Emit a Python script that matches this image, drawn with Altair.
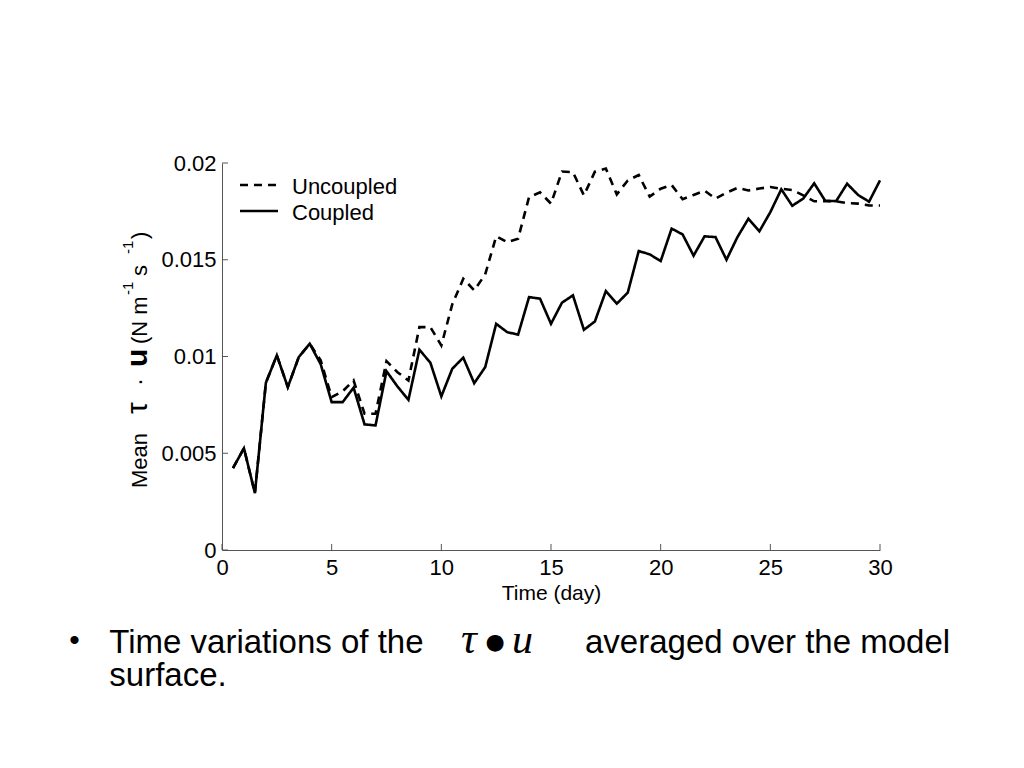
import altair as alt
import pandas as pd

# ---- data ----
days = [0.5, 1.0, 1.5, 2.0, 2.5, 3.0, 3.5, 4.0, 4.5, 5.0,
        5.5, 6.0, 6.5, 7.0, 7.5, 8.0, 8.5, 9.0, 9.5, 10.0,
        10.5, 11.0, 11.5, 12.0, 12.5, 13.0, 13.5, 14.0, 14.5, 15.0,
        15.5, 16.0, 16.5, 17.0, 17.5, 18.0, 18.5, 19.0, 19.5, 20.0,
        20.5, 21.0, 21.5, 22.0, 22.5, 23.0, 23.5, 24.0, 24.5, 25.0,
        25.5, 26.0, 26.5, 27.0, 27.5, 28.0, 28.5, 29.0, 29.5, 30.0]

coupled = [0.00423, 0.00526, 0.00294, 0.00864, 0.01006, 0.00842, 0.00997, 0.01066, 0.00960, 0.00764,
           0.00764, 0.00839, 0.00649, 0.00644, 0.00924, 0.00845, 0.00776, 0.01035, 0.00968, 0.00794,
           0.00937, 0.00994, 0.00862, 0.00945, 0.01169, 0.01126, 0.01113, 0.01307, 0.01299, 0.01169,
           0.01278, 0.01316, 0.01138, 0.01181, 0.01338, 0.01273, 0.01330, 0.01545, 0.01528, 0.01493,
           0.01661, 0.01631, 0.01521, 0.01621, 0.01617, 0.01500, 0.01617, 0.01712, 0.01647, 0.01746,
           0.01864, 0.01779, 0.01816, 0.01895, 0.01805, 0.01803, 0.01893, 0.01835, 0.01800, 0.01910]

uncoupled = [0.00423, 0.00526, 0.00294, 0.00864, 0.01006, 0.00842, 0.00997, 0.01066, 0.00980, 0.00790,
             0.00820, 0.00876, 0.00704, 0.00704, 0.00976, 0.00919, 0.00876, 0.01152, 0.01152, 0.01057,
             0.01270, 0.01402, 0.01342, 0.01424, 0.01621, 0.01591, 0.01609, 0.01824, 0.01848, 0.01790,
             0.01956, 0.01953, 0.01833, 0.01955, 0.01971, 0.01838, 0.01910, 0.01938, 0.01826, 0.01867,
             0.01886, 0.01813, 0.01835, 0.01857, 0.01816, 0.01847, 0.01871, 0.01858, 0.01868, 0.01876,
             0.01867, 0.01860, 0.01833, 0.01802, 0.01802, 0.01802, 0.01793, 0.01790, 0.01781, 0.01780]

series_names = ["Uncoupled", "Coupled"]
x_ticks = [0, 5, 10, 15, 20, 25, 30]
y_ticks = [0, 0.005, 0.01, 0.015, 0.02]

FONT = "Liberation Sans"
SERIF = "Liberation Serif"
AXC = "#555555"
W, H = 658, 387

df = pd.DataFrame({
    "day": days * 2,
    "value": uncoupled + coupled,
    "series": ["Uncoupled"] * len(days) + ["Coupled"] * len(days),
})

xs = alt.Scale(domain=[0, 30], nice=False)
ys = alt.Scale(domain=[0, 0.02], nice=False)

x_axis = alt.Axis(
    values=x_ticks, title="Time (day)", ticks=False, tickSize=0, grid=False,
    labelPadding=7, labelFontSize=22, labelFont=FONT, labelColor="black",
    titleFont=FONT, titleFontSize=21, titleFontWeight="normal", titleColor="black",
    titlePadding=4, domainColor=AXC, domainWidth=1, labelFlush=False)
y_axis = alt.Axis(
    values=y_ticks, format="~g", title="", ticks=False, tickSize=0, grid=False,
    labelPadding=6, labelFontSize=22, labelFont=FONT, labelColor="black",
    domainColor=AXC, domainWidth=1, labelFlush=False)

lines = alt.Chart(df).mark_line(color="black", strokeWidth=2.6).encode(
    x=alt.X("day:Q", scale=xs, axis=x_axis),
    y=alt.Y("value:Q", scale=ys, axis=y_axis),
    strokeDash=alt.StrokeDash("series:N", scale=alt.Scale(domain=series_names, range=[[8, 6], [1, 0]]), legend=None),
)

yt = alt.Chart(pd.DataFrame({"value": y_ticks})).mark_rule(color=AXC, strokeWidth=1).encode(
    y=alt.Y("value:Q", scale=ys, axis=y_axis), x=alt.value(0), x2=alt.value(6))
xt = alt.Chart(pd.DataFrame({"day": x_ticks})).mark_rule(color=AXC, strokeWidth=1).encode(
    x=alt.X("day:Q", scale=xs, axis=x_axis), y=alt.value(H), y2=alt.value(H - 6))


def txt(s, x, y, size, font=FONT, align="left", baseline="alphabetic", angle=0, **kw):
    return alt.Chart(pd.DataFrame({"t": [s]})).mark_text(
        align=align, baseline=baseline, fontSize=size, font=font, angle=angle, color="black", **kw
    ).encode(x=alt.value(x), y=alt.value(y), text="t:N")


# legend (manual)
leg_dash = alt.Chart(pd.DataFrame({"s": ["Uncoupled"]})).mark_rule(
    color="black", strokeWidth=2.5, strokeDash=[8, 6]).encode(
    x=alt.value(18), x2=alt.value(56), y=alt.value(22))
leg_solid = alt.Chart(pd.DataFrame({"s": ["Coupled"]})).mark_rule(
    color="black", strokeWidth=2.5).encode(
    x=alt.value(18), x2=alt.value(56), y=alt.value(48))
leg_t1 = txt("Uncoupled", 70, 31, 22)
leg_t2 = txt("Coupled", 70, 57, 22)

# y-axis title, rotated pieces
bx = -75
ytitle = [
    txt("Mean", bx, 325, 22, angle=270),
    txt("τ", bx, 251, 30, angle=270),
    txt("·", bx, 223, 24, angle=270),
    txt("u", bx, 204, 30, angle=270, fontWeight="bold"),
    txt("(N m", bx, 181, 22, angle=270),
    txt("-1", -89, 132, 15, angle=270),
    txt("s", bx, 113, 22, angle=270),
    txt("-1", -89, 91, 15, angle=270),
    txt(")", bx, 76, 22, angle=270),
]

# caption below the chart
caption = [
    txt("•", -147.5, 478, 30, align="center", baseline="middle"),
    txt("Time variations of the", -112.7, 489.5, 33),
    txt("τ", 239, 490, 44, font=SERIF, fontStyle="italic"),
    txt("●", 273, 478.7, 22, font="DejaVu Sans", align="center", baseline="middle"),
    txt("u", 290, 490, 42, font=SERIF, fontStyle="italic"),
    txt("averaged over the model", 363, 490, 33),
    txt("surface.", -112.7, 523, 33),
]

chart = alt.layer(
    lines, yt, xt, leg_dash, leg_solid, leg_t1, leg_t2, *ytitle, *caption
).properties(
    width=W, height=H,
    autosize=alt.AutoSizeParams(type="none"),
    padding={"left": 214, "top": 155, "right": 136, "bottom": 200},
    background="white",
).configure_view(stroke=None)

chart.save("out.html", embed_options={"renderer": "svg", "actions": False})
